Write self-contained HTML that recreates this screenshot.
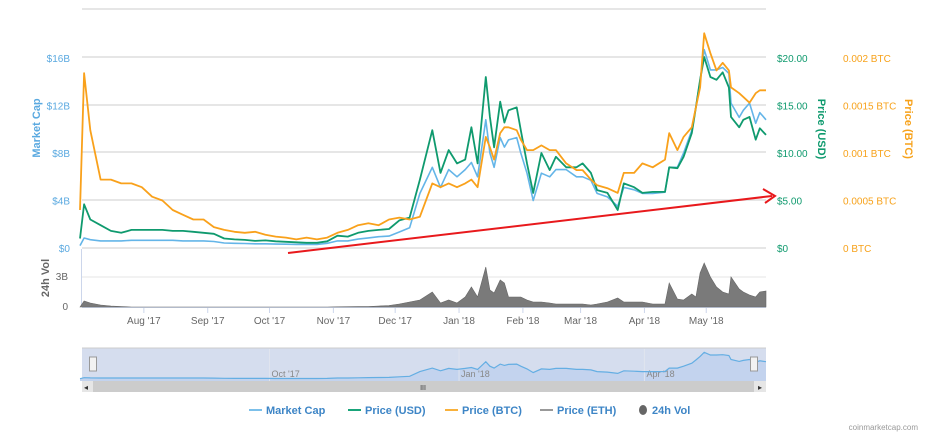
<!DOCTYPE html>
<html><head><meta charset="utf-8"><style>
html,body{margin:0;padding:0;background:#fff;}
body{width:932px;height:442px;overflow:hidden;font-family:"Liberation Sans",sans-serif;}
svg text{font-family:"Liberation Sans",sans-serif;}
</style></head><body>
<svg id="chart" width="932" height="442" viewBox="0 0 932 442"></svg>
<script>
// ---- data (day index from 1 Jul 2017) ----
const dayIndex = [0,2,5,10,15,20,25,30,35,40,45,50,55,60,65,70,75,80,85,90,95,100,105,110,115,120,125,130,135,140,145,150,155,160,
165,171,175,179,183,187,190,193,197,199,201,204,206,208,212,214,217,220,224,228,231,236,241,244,248,251,256,261,264,269,273,278,284,286,290,293,297,299,301,303,306,309,312,315,316,320,322,325,328,330,333];
const priceUsd = [1.0,4.6,3.0,2.4,1.8,1.6,1.9,1.9,1.9,1.9,1.8,1.8,1.7,1.6,1.5,1.0,0.9,0.85,0.75,0.8,0.7,0.65,0.6,0.55,0.55,0.7,1.3,1.2,1.6,1.8,1.9,2.0,2.9,3.2,
7.2,12.4,7.9,10.3,8.9,9.3,12.7,8.9,18.0,13.8,10.6,15.4,13.2,14.5,14.8,12.4,8.9,5.8,10.0,8.2,9.6,8.5,8.5,8.9,7.9,6.1,5.8,4.0,6.8,6.4,5.8,5.9,5.9,8.5,8.4,9.6,12.1,14.8,17.7,20.1,18.0,17.7,18.5,16.9,13.8,12.7,13.5,13.8,11.4,12.6,11.9];
const priceBtc = [0.0004,0.00184,0.00124,0.00072,0.00072,0.00068,0.00068,0.00064,0.00054,0.0005,0.0004,0.00035,0.0003,0.0003,0.00022,0.00019,0.00017,0.00016,0.00017,0.00014,0.00012,0.00011,0.00009,0.00011,0.00009,0.00011,0.00016,0.00019,0.00024,0.00026,0.00024,0.0003,0.00032,0.0003,
0.00033,0.00068,0.00064,0.00068,0.00064,0.00068,0.00072,0.00064,0.00117,0.00106,0.00093,0.00121,0.00127,0.00127,0.00124,0.00114,0.00103,0.00103,0.00108,0.00103,0.00103,0.00089,0.00082,0.00082,0.00072,0.00066,0.00063,0.00058,0.00079,0.00079,0.00089,0.00085,0.00093,0.00121,0.00103,0.00117,0.00127,0.00148,0.00169,0.00226,0.00205,0.00187,0.00195,0.00187,0.00169,0.00163,0.00159,0.00153,0.00163,0.00166,0.00166];
const marketCapB = [0.2,0.84,0.7,0.6,0.6,0.6,0.65,0.65,0.65,0.65,0.65,0.6,0.6,0.6,0.55,0.42,0.4,0.38,0.35,0.35,0.33,0.32,0.3,0.3,0.3,0.4,0.6,0.6,0.75,0.85,0.95,1.0,1.35,1.7,
4.6,6.8,5.1,6.6,6.0,6.6,7.2,6.0,10.8,8.0,6.8,9.3,8.5,9.1,9.3,8.0,6.3,4.0,6.3,6.0,6.6,6.6,6.0,6.0,5.7,4.6,4.3,3.5,5.1,4.9,4.6,4.6,4.7,6.8,6.8,8.0,9.9,11.9,14.1,16.7,15.0,15.0,15.2,14.7,12.2,11.0,11.6,12.2,10.5,11.4,10.8];
const volumeB = [0,0.6,0.4,0.2,0.1,0.05,0,0,0,0,0,0,0,0,0,0,0,0,0,0,0,0,0,0,0,0,0.02,0.03,0.04,0.05,0.1,0.15,0.3,0.5,
0.7,1.5,0.4,0.7,0.4,1.0,2.0,1.0,4.0,1.7,1.4,2.7,2.4,1.0,1.0,1.0,0.7,0.5,0.5,0.4,0.3,0.3,0.3,0.3,0.2,0.3,0.5,0.9,0.5,0.5,0.5,0.3,0.3,2.4,0.8,0.7,1.3,1.0,3.4,4.4,3.0,2.0,1.5,1.3,3.0,1.8,1.5,1.2,1.0,1.5,1.6];
const capTicks = ["$0","$4B","$8B","$12B","$16B"];
const usdTicks = ["$0","$5.00","$10.00","$15.00","$20.00"];
const btcTicks = ["0 BTC","0.0005 BTC","0.001 BTC","0.0015 BTC","0.002 BTC"];
const monthLabels = ["Aug '17","Sep '17","Oct '17","Nov '17","Dec '17","Jan '18","Feb '18","Mar '18","Apr '18","May '18"];
const monthDays = [31,62,92,123,153,184,215,243,274,304];
const navLabels = ["Oct '17","Jan '18","Apr '18"];
const navDays = [92,184,274];

// ---- scales ----
const NS="http://www.w3.org/2000/svg";
const svg=document.getElementById('chart');
const X0=80, XS=2.06, BASE=248, STEP=47.5;
const xDay=d=>X0+XS*d;
const yCap=v=>BASE-v/4*STEP;
const yUsd=v=>BASE-v/5*STEP;
const yBtc=v=>BASE-v/0.0005*STEP;
const yVol=v=>307-v*10;
const yNav=v=>379-v*1.6;
function el(tag,attrs,parent){const e=document.createElementNS(NS,tag);for(const k in attrs)e.setAttribute(k,attrs[k]);(parent||svg).appendChild(e);return e;}
function txt(s,attrs){const t=el('text',attrs);t.textContent=s;return t;}

// gridlines
[9,57,105,152,200,248].forEach((y,i)=>{
  const g=el('line',{x1:82,x2:766,y1:y,y2:y,stroke:'#e6e6e6','stroke-width':2});
  
  
});
const vg=el('line',{x1:82,x2:766,y1:277,y2:277,stroke:'#e6e6e6','stroke-width':1});


const vb=el('line',{x1:82,x2:766,y1:307.5,y2:307.5,stroke:'#ccd6eb','stroke-width':1});


const vl=el('line',{x1:81.5,x2:81.5,y1:249,y2:307,stroke:'#ccd6eb','stroke-width':1});



// axis tick labels
capTicks.forEach((s,i)=>{const t=txt(s,{x:70,y:BASE-i*STEP+4,'text-anchor':'end','font-size':10,fill:'#5aa9e0'});
  });
usdTicks.forEach((s,i)=>{const t=txt(s,{x:777,y:BASE-i*STEP+4,'font-size':10,fill:'#0f9a6e'});
  });
btcTicks.forEach((s,i)=>{const t=txt(s,{x:843,y:BASE-i*STEP+4,'font-size':10,fill:'#f7a21b'});
  });
[["3B",277],["0",307]].forEach(a=>{const t=txt(a[0],{x:68,y:a[1]+3,'text-anchor':'end','font-size':10,fill:'#666'});
  });

// axis titles
let t=txt('Market Cap',{x:0,y:0,transform:'translate(40,128) rotate(-90)','text-anchor':'middle','font-size':11,'font-weight':'bold',fill:'#5aa9e0'});

t=txt('24h Vol',{x:0,y:0,transform:'translate(49,278) rotate(-90)','text-anchor':'middle','font-size':11,'font-weight':'bold',fill:'#666'});

t=txt('Price (USD)',{x:0,y:0,transform:'translate(818,129) rotate(90)','text-anchor':'middle','font-size':11,'font-weight':'bold',fill:'#0f9a6e'});

t=txt('Price (BTC)',{x:0,y:0,transform:'translate(905,129) rotate(90)','text-anchor':'middle','font-size':11,'font-weight':'bold',fill:'#f7a21b'});


// month labels
monthLabels.forEach((s,i)=>{const x=xDay(monthDays[i]);
  const tk=el('line',{x1:x,x2:x,y1:308,y2:313,stroke:'#ccd6eb'});
  
  const l=txt(s,{x:x,y:324,'text-anchor':'middle','font-size':10,fill:'#666'});
  });

// volume area
let vp='M'+xDay(dayIndex[0])+','+yVol(0);
dayIndex.forEach((d,i)=>{vp+=' L'+xDay(d).toFixed(1)+','+yVol(volumeB[i]).toFixed(1);});
vp+=' L'+xDay(dayIndex[dayIndex.length-1])+','+yVol(0)+' Z';
const va=el('path',{d:vp,fill:'#7a7a7a',stroke:'#666','stroke-width':0.6});


function line(arr,ys,color,name,w){
  const d=dayIndex.map((dd,i)=>(i?'L':'M')+xDay(dd).toFixed(1)+','+ys(arr[i]).toFixed(1)).join(' ');
  const p=el('path',{d:d,fill:'none',stroke:color,'stroke-width':w,'stroke-linejoin':'round'});
  
}
line(marketCapB,yCap,'#64b5e8','market-cap-line',1.6);
line(priceUsd,yUsd,'#0f9a6e','price-usd-line',1.8);
line(priceBtc,yBtc,'#f9a11b','price-btc-line',1.8);

// red annotation arrow
const ar=el('line',{x1:288,y1:253,x2:772,y2:196,stroke:'#e8191c','stroke-width':2});

const ah=el('path',{d:'M763,189 L775,196 L765,203',fill:'none',stroke:'#e8191c','stroke-width':2});


// navigator
const nb=el('rect',{x:82,y:348,width:684,height:33,fill:'#d5ddee'});

const nt=el('line',{x1:82,x2:766,y1:348,y2:348,stroke:'#ccc'});

let np='';dayIndex.forEach((d,i)=>{np+=(i?'L':'M')+xDay(d).toFixed(1)+','+yNav(marketCapB[i]).toFixed(1)+' ';});
const na=el('path',{d:np+'L'+xDay(333)+',381 L'+xDay(0)+',381 Z',fill:'#c3d3ee',stroke:'none'});

navLabels.forEach((s,i)=>{const x=xDay(navDays[i]);
  const g=el('line',{x1:x,x2:x,y1:349,y2:381,stroke:'#e0e4ee'});
  
  const l=txt(s,{x:x+2,y:377,'font-size':9,fill:'#888'});
  });
const nl=el('path',{d:np,fill:'none',stroke:'#64aee3','stroke-width':1.2});

[93,754].forEach((x,i)=>{const h=el('rect',{x:x-3.5,y:357,width:7,height:14,fill:'#f2f2f2',stroke:'#999'});
  });
const sb=el('rect',{x:82,y:381,width:684,height:11,fill:'#e6e6e6'});

const st=el('rect',{x:93,y:381,width:661,height:11,fill:'#cccccc'});

t=txt('III',{x:423,y:390,'text-anchor':'middle','font-size':7,fill:'#333'});

t=txt('◂',{x:84,y:390,'font-size':8,fill:'#333'});

t=txt('▸',{x:758,y:390,'font-size':8,fill:'#333'});


// legend
const legend=[['Market Cap','#7cc0ea',249],['Price (USD)','#19a47a',348],['Price (BTC)','#f9b13b',445],['Price (ETH)','#999',540]];
legend.forEach(L=>{
  const k=el('line',{x1:L[2],x2:L[2]+13,y1:410,y2:410,stroke:L[1],'stroke-width':2});
  
  const lt=txt(L[0],{x:L[2]+17,y:414,'font-size':11,'font-weight':'bold',fill:'#3d85c6'});
  
});
const c=el('ellipse',{cx:643,cy:410,rx:4,ry:5,fill:'#666'});

t=txt('24h Vol',{x:652,y:414,'font-size':11,'font-weight':'bold',fill:'#3d85c6'});

t=txt('coinmarketcap.com',{x:918,y:430,'text-anchor':'end','font-size':8,fill:'#999'});

</script>
</body></html>
